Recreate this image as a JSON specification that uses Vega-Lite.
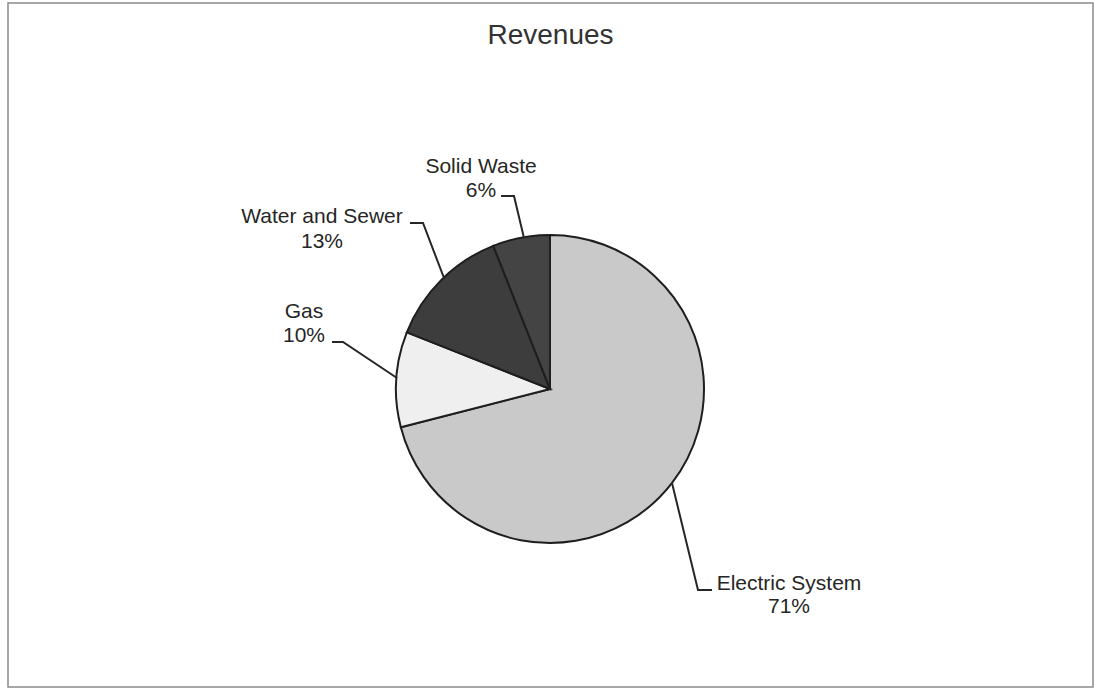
{
  "$schema": "https://vega.github.io/schema/vega-lite/v6.json",
  "autosize": {"type": "none"},
  "padding": {"left": 8, "top": 3, "right": 1, "bottom": 4},
  "width": 1085,
  "height": 684,
  "background": "white",
  "config": {
    "view": {"stroke": "#8a8a8a", "strokeWidth": 1.5},
    "font": "Liberation Sans"
  },
  "title": {
    "text": "Revenues",
    "fontSize": 28,
    "fontWeight": "normal",
    "font": "Liberation Sans",
    "color": "#333333",
    "anchor": "middle",
    "baseline": "alphabetic",
    "offset": -41,
    "dy": 28
  },
  "layer": [
    {
      "data": {"values": [
        {"category": "Electric System", "value": 71, "ord": 1, "cx": 0, "cy": 0},
        {"category": "Gas", "value": 10, "ord": 2, "cx": 0, "cy": 0},
        {"category": "Water and Sewer", "value": 13, "ord": 3, "cx": 0, "cy": 0},
        {"category": "Solid Waste", "value": 6, "ord": 4, "cx": 0, "cy": 0}
      ]},
      "mark": {"type": "arc", "outerRadius": 154, "stroke": "#1e1e1e", "strokeWidth": 2},
      "encoding": {
        "x": {"field": "cx", "type": "quantitative", "scale": {"domain": [-542, 543], "nice": false, "zero": false}, "axis": null},
        "y": {"field": "cy", "type": "quantitative", "scale": {"domain": [-298, 386], "nice": false, "zero": false}, "axis": null},
        "theta": {"field": "value", "type": "quantitative", "stack": true},
        "order": {"field": "ord", "type": "quantitative"},
        "color": {
          "field": "category", "type": "nominal",
          "scale": {"domain": ["Electric System", "Gas", "Water and Sewer", "Solid Waste"],
                    "range": ["#c9c9c9", "#efefef", "#3d3d3d", "#444444"]},
          "legend": null
        }
      }
    },
    {
      "data": {"values": [
        {"seg": "Solid Waste", "i": 1, "x": -49, "y": 193},
        {"seg": "Solid Waste", "i": 2, "x": -36, "y": 193},
        {"seg": "Solid Waste", "i": 3, "x": -26, "y": 151},
        {"seg": "Water and Sewer", "i": 1, "x": -140, "y": 166},
        {"seg": "Water and Sewer", "i": 2, "x": -127, "y": 166},
        {"seg": "Water and Sewer", "i": 3, "x": -106, "y": 111},
        {"seg": "Gas", "i": 1, "x": -218, "y": 47},
        {"seg": "Gas", "i": 2, "x": -207, "y": 47},
        {"seg": "Gas", "i": 3, "x": -153, "y": 11},
        {"seg": "Electric System", "i": 1, "x": 122, "y": -94},
        {"seg": "Electric System", "i": 2, "x": 148, "y": -201},
        {"seg": "Electric System", "i": 3, "x": 162, "y": -201}
      ]},
      "mark": {"type": "line", "color": "#262626", "strokeWidth": 2},
      "encoding": {
        "x": {"field": "x", "type": "quantitative"},
        "y": {"field": "y", "type": "quantitative"},
        "detail": {"field": "seg", "type": "nominal"},
        "order": {"field": "i", "type": "quantitative"}
      }
    },
    {
      "data": {"values": [
        {"text": "Solid Waste", "x": -69, "y": 216},
        {"text": "6%", "x": -69, "y": 192},
        {"text": "Water and Sewer", "x": -228, "y": 166},
        {"text": "13%", "x": -228, "y": 141},
        {"text": "Gas", "x": -246, "y": 71},
        {"text": "10%", "x": -246, "y": 47},
        {"text": "Electric System", "x": 239, "y": -201},
        {"text": "71%", "x": 239, "y": -224}
      ]},
      "mark": {"type": "text", "fontSize": 21, "font": "Liberation Sans", "color": "#262626", "align": "center", "baseline": "alphabetic"},
      "encoding": {
        "x": {"field": "x", "type": "quantitative"},
        "y": {"field": "y", "type": "quantitative"},
        "text": {"field": "text", "type": "nominal"}
      }
    }
  ]
}
